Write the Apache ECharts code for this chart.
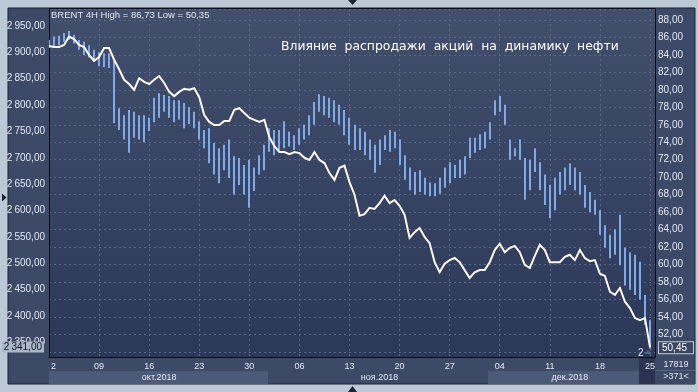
<!DOCTYPE html>
<html><head><meta charset="utf-8">
<script src="https://cdn.jsdelivr.net/npm/echarts@6/dist/echarts.min.js"></script>
<style>html,body{margin:0;padding:0;background:#bdc8d6;} #c{width:698px;height:392px;}</style>
</head><body><div id="c"></div>
<script>
// ---- data ----
const dateLabels = ['2','09','16','23','30','06','13','20','27','04','11','18','25'];
const slotsPerWeek = 10;
const monthLabels = ['окт.2018','ноя.2018','дек.2018'];
const monthSlots = [22, 66, 104];
const brentHigh = [85.7,86.1,86.2,86.5,86.73,86.3,85.7,85.5,85.1,84.6,
 84.3,84.2,84.2,83.3,77.9,77.1,77.7,77.5,77.1,77.1,
 76.8,79.1,79.6,79.4,79.3,78.8,78.8,78.5,78.0,77.5,
 76.4,75.4,75.6,73.9,73.3,73.7,74.3,72.4,72.2,71.4,
 72.0,71.1,72.5,73.7,75.6,75.4,75.4,76.4,75.2,74.8,
 75.6,76.0,77.1,78.6,79.5,79.3,79.1,78.8,78.3,77.7,
 76.8,76.0,75.6,75.2,74.3,73.7,74.3,74.8,75.4,75.2,
 74.3,72.5,71.1,70.6,70.8,69.9,69.4,69.3,69.9,71.1,
 71.7,71.4,72.0,72.4,74.5,74.5,74.9,75.2,76.3,78.8,
 79.3,78.3,74.3,73.3,74.3,72.2,72.0,73.3,71.7,70.3,
 69.1,69.9,70.6,71.1,71.6,71.1,70.6,69.1,68.3,67.4,
 66.2,64.5,63.4,64.0,65.7,61.9,61.4,61.1,60.3,56.5,
 53.6];
const brentLow = [84.8,85.0,85.1,85.5,85.7,85.3,84.6,84.0,83.7,83.2,
 82.7,82.6,82.5,76.2,75.4,74.3,72.8,74.5,74.3,74.0,
 75.3,76.3,76.8,77.5,76.8,76.3,76.6,75.6,76.1,75.6,
 74.3,73.3,71.6,70.3,69.3,70.8,69.9,68.0,69.1,68.0,
 66.5,68.4,70.3,70.8,72.9,72.5,73.1,73.3,73.5,73.1,
 73.7,74.3,74.8,76.0,77.5,77.1,76.8,76.3,76.0,74.8,
 73.7,73.1,73.1,72.5,72.0,70.5,71.4,73.1,72.9,73.3,
 71.4,69.7,68.5,68.0,68.3,68.0,67.8,67.8,68.1,68.8,
 69.3,69.9,69.9,70.3,72.2,72.8,73.1,73.3,74.3,77.1,
 77.5,76.0,72.0,72.4,72.0,67.4,68.5,70.6,68.5,66.8,
 65.3,66.2,68.0,68.5,69.1,68.5,68.0,66.5,66.0,65.7,
 63.4,61.9,60.7,61.1,59.9,57.6,57.1,56.5,56.0,53.1,
 50.35];
const spx = [2912,2910,2910,2914,2930,2925,2914,2910,2895,2884,
 2891,2908,2908,2886,2868,2848,2840,2829,2851,2844,
 2840,2848,2855,2842,2825,2817,2825,2831,2829,2832,
 2815,2781,2768,2762,2762,2770,2770,2791,2794,2785,
 2776,2772,2768,2772,2739,2722,2711,2711,2707,2711,
 2709,2700,2696,2711,2696,2690,2671,2658,2681,2685,
 2654,2630,2590,2593,2605,2603,2614,2628,2614,2620,
 2609,2592,2548,2559,2567,2550,2538,2502,2483,2499,
 2506,2510,2502,2487,2472,2483,2487,2487,2502,2525,
 2537,2521,2529,2533,2521,2497,2491,2514,2535,2525,
 2502,2502,2502,2512,2516,2506,2525,2510,2504,2506,
 2480,2476,2446,2440,2453,2427,2415,2396,2392,2396,
 2341];
const brentLast = 50.45;
const barsLabel = '>371<';
const countLabel = '17819';
const titleText = 'Влияние  распродажи  акций  на  динамику  нефти';

// ---- build ----
const N = brentHigh.length;
const categories = [];
for (let i = 0; i <= N; i++) categories.push(i % slotsPerWeek === 0 ? (dateLabels[i / slotsPerWeek] || '') : '');
const monthCats = categories.map((_, i) => { const k = monthSlots.indexOf(i); return k >= 0 ? monthLabels[k] : ''; });
const fmtNum = v => v.toFixed(2).replace('.', ',');
const fmtL = v => { const p = v.toFixed(2).split('.'); return p[0].replace(/\B(?=(\d{3})+(?!\d))/g, '\u2009') + ',' + p[1]; };
const hi = Math.max(...brentHigh), lo = Math.min(...brentLow);
const header = 'BRENT 4H High = ' + fmtNum(hi) + ' Low = ' + fmtNum(lo);
const FF = 'Liberation Sans, Arial, sans-serif';
const LBL = '#e2e7ef';
const HIDDEN = {color: 'rgba(0,0,0,0)', width: 0};

const chart = echarts.init(document.getElementById('c'), null, {renderer: 'canvas'});
chart.setOption({
  animation: false,
  backgroundColor: 'transparent',
  title: [
    {text: header, left: 51, top: 10, padding: 0, textStyle: {color: '#e4e8f0', fontSize: 9.5, fontWeight: 'normal', fontFamily: FF}},
    {text: titleText, left: 281, top: 41, padding: 0, textStyle: {color: '#ffffff', fontSize: 12.4, fontWeight: 'normal', fontFamily: 'DejaVu Sans'}}
  ],
  grid: {left: 49, top: 9, width: 606, height: 348, containLabel: false, outerBoundsMode: 'none'},
  xAxis: [{
    type: 'category', data: categories, boundaryGap: false,
    axisLine: {lineStyle: {color: '#0b0e16', width: 1}}, axisTick: {show: false},
    axisLabel: {interval: 0, color: LBL, fontSize: 9, fontFamily: FF, margin: 5,
      formatter: (v, i) => i === 0 ? '{f|' + v + '}' : v,
      rich: {f: {padding: [0, 0, 0, 9], fontSize: 9, color: LBL, fontFamily: FF}}},
    splitLine: {show: true, interval: slotsPerWeek - 1, lineStyle: {color: '#5a6887', type: [2, 3], width: 1}}
  }, {
    type: 'category', data: monthCats, boundaryGap: false, position: 'bottom',
    axisLine: {show: false}, axisTick: {show: false}, splitLine: {show: false},
    axisLabel: {interval: 0, color: LBL, fontSize: 9, fontFamily: FF, margin: 16}
  }],
  yAxis: [{
    type: 'value', position: 'left', min: 2322.2, max: 2982.2, splitNumber: 13, minInterval: 50, maxInterval: 50,
    axisLine: {show: true, lineStyle: {color: '#0b0e16'}}, axisTick: {show: false}, splitLine: {show: false},
    axisLabel: {showMinLabel: false, showMaxLabel: false, formatter: fmtL, color: LBL, fontSize: 10, fontFamily: FF, margin: 4}
  }, {
    type: 'value', position: 'right', min: 49.40, max: 89.26, splitNumber: 20, minInterval: 2, maxInterval: 2,
    axisLine: {show: true, lineStyle: {color: '#0b0e16'}}, axisTick: {show: false},
    splitLine: {show: true, lineStyle: {color: '#5a6887', type: [2, 3], width: 1}},
    axisLabel: {showMinLabel: false, showMaxLabel: false, formatter: v => v < 51 ? '' : fmtNum(v), color: LBL, fontSize: 10, fontFamily: FF, margin: 3}
  }],
  graphic: [
    {type: 'rect', z: -20, shape: {x: 8, y: 8, width: 687, height: 376}, style: {fill: '#3c4a67', stroke: '#1a2030', lineWidth: 1}},
    {type: 'rect', z: -19, shape: {x: 49, y: 8, width: 606, height: 349},
      style: {fill: new echarts.graphic.LinearGradient(0, 0, 0, 1, [{offset: 0, color: '#414f6d'}, {offset: 1, color: '#2c3858'}])}},
    {type: 'line', z: -18, shape: {x1: 49, y1: 8.5, x2: 655, y2: 8.5}, style: {stroke: '#0b0e16', lineWidth: 1}},
    {type: 'rect', z: -19, shape: {x: 49, y: 371, width: 219, height: 13}, style: {fill: '#4b5a79'}},
    {type: 'rect', z: -19, shape: {x: 488, y: 371, width: 151, height: 13}, style: {fill: '#4b5a79'}},
    {type: 'rect', z: -18, shape: {x: 639, y: 358, width: 16, height: 26}, style: {fill: '#2a3450'}},
    {type: 'rect', z: 50, shape: {x: 655.5, y: 358, width: 39, height: 26}, style: {fill: '#3c4a67'}},
    {type: 'line', z: 51, shape: {x1: 655, y1: 370.5, x2: 695, y2: 370.5}, style: {stroke: '#56647f', lineWidth: 1}},
    {type: 'text', z: 52, x: 676, y: 360, style: {text: countLabel, fill: LBL, font: '9px ' + FF, textAlign: 'center'}},
    {type: 'text', z: 52, x: 676, y: 372, style: {text: barsLabel, fill: LBL, font: '9px ' + FF, textAlign: 'center'}},
    {type: 'text', z: 52, x: 638, y: 348, style: {text: '2', fill: LBL, font: '10px ' + FF}},
    {type: 'polygon', z: 52, shape: {points: [[645, 354], [651, 354], [648, 350]]}, style: {fill: '#5a6887'}},
    {type: 'polygon', z: 52, shape: {points: [[348, 0], [357, 0], [352.5, 5]]}, style: {fill: '#1b2233'}},
    {type: 'polygon', z: 52, shape: {points: [[348, 392], [357, 392], [352.5, 386]]}, style: {fill: '#1b2233'}},
    {type: 'polygon', z: 52, shape: {points: [[2, 193.5], [2, 201.5], [6.5, 197.5]]}, style: {fill: '#1b2233'}}
  ],
  series: [{
    type: 'custom', xAxisIndex: 0, yAxisIndex: 1, z: 2, clip: true,
    data: brentHigh.map((h, i) => [i, h, brentLow[i]]),
    encode: {x: 0, y: [1, 2]},
    renderItem: (params, api) => {
      const a = api.coord([api.value(0), api.value(1)]);
      const b = api.coord([api.value(0), api.value(2)]);
      return {type: 'rect', shape: {x: Math.round(a[0]) - 1, y: a[1], width: 2, height: Math.max(1, b[1] - a[1])}, style: {fill: '#80aae6'}};
    }
  }, {
    type: 'line', xAxisIndex: 0, yAxisIndex: 1, z: 1, data: [], symbol: 'none',
    markLine: {silent: true, symbol: ['none', 'none'], lineStyle: HIDDEN, data: [{yAxis: brentLast}],
      label: {show: true, position: 'end', distance: 4, formatter: () => fmtNum(brentLast), color: '#ffffff', fontSize: 10, fontFamily: FF,
        backgroundColor: '#3a4662', borderColor: '#c3ccd9', borderWidth: 1, padding: [1, 6, 0, 3]}}
  }, {
    type: 'line', xAxisIndex: 0, yAxisIndex: 0, z: 3, data: spx, symbol: 'none', showSymbol: false, smooth: false,
    lineStyle: {color: '#fff8f0', width: 2, join: 'miter'}, itemStyle: {color: '#fff8f0'},
    markLine: {silent: true, symbol: ['none', 'none'], lineStyle: HIDDEN, data: [{yAxis: spx[spx.length - 1]}],
      label: {show: true, position: 'start', distance: 5, formatter: () => fmtL(spx[spx.length - 1]), color: '#10141c', fontSize: 10, fontFamily: FF,
        backgroundColor: '#a9b8cb', padding: [1, 2, 0, 2]}}
  }]
});
</script></body></html>
